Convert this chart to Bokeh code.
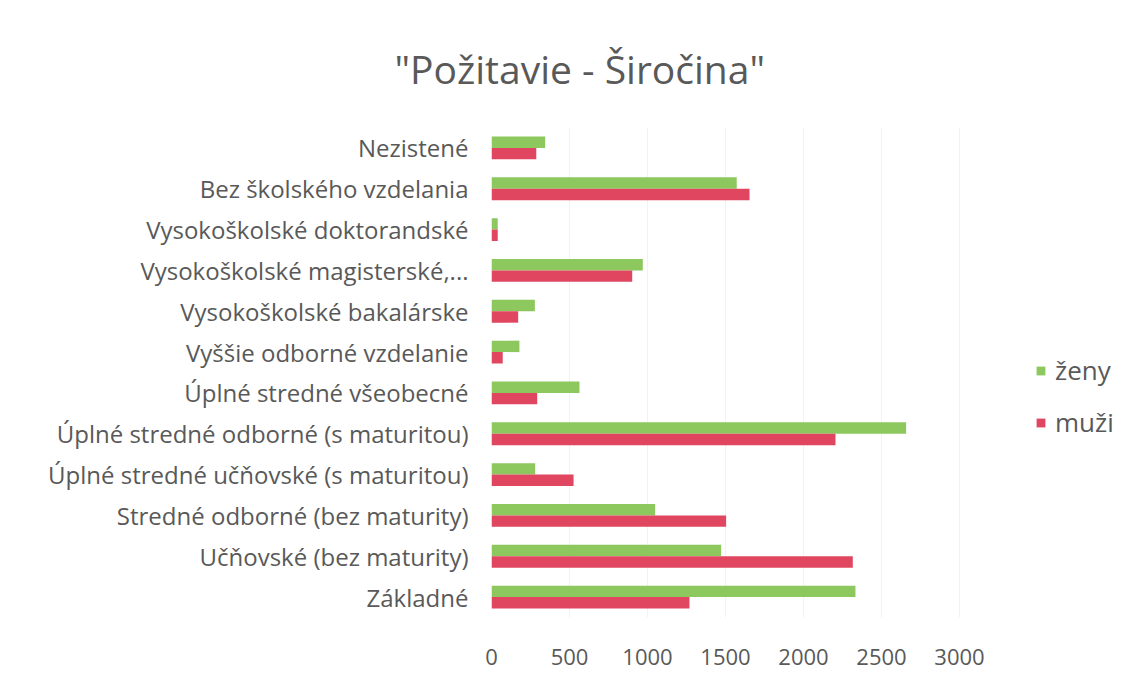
from bokeh.plotting import figure
from bokeh.models import FactorRange, Range1d, Legend, LegendItem, ColumnDataSource, FixedTicker
from bokeh.transform import dodge
from bokeh.embed import file_html
from bokeh.resources import INLINE

categories = ["Nezistené", "Bez školského vzdelania", "Vysokoškolské doktorandské",
              "Vysokoškolské magisterské,...", "Vysokoškolské bakalárske",
              "Vyššie odborné vzdelanie", "Úplné stredné všeobecné",
              "Úplné stredné odborné (s maturitou)", "Úplné stredné učňovské (s maturitou)",
              "Stredné odborné (bez maturity)", "Učňovské (bez maturity)", "Základné"]
zeny = [344, 1572, 40, 970, 278, 179, 564, 2658, 280, 1049, 1472, 2333]
muzi = [287, 1654, 40, 902, 171, 72, 293, 2205, 526, 1504, 2316, 1269]
x_ticks = [0, 500, 1000, 1500, 2000, 2500, 3000]

FONT = "Open Sans"
TXT = "#595959"
GREEN = "#8cc85e"
RED = "#e0465f"

src = ColumnDataSource(dict(cat=categories, zeny=zeny, muzi=muzi))

# frame extends to the right edge so the legend can sit inside it;
# 0..3000 spans 468 px, frame width is 639 px
p = figure(width=1130, height=682, output_backend="svg", toolbar_location=None,
           y_range=FactorRange(factors=list(reversed(categories)), range_padding=0),
           x_range=Range1d(0, 3000 * 639 / 468),
           min_border_left=491, min_border_right=0, min_border_top=127, min_border_bottom=65,
           title='"Požitavie - Širočina"')

rg = p.hbar(y=dodge("cat", 0.14, range=p.y_range), right="zeny", left=0, height=0.28,
            source=src, fill_color=GREEN, line_color=None)
rr = p.hbar(y=dodge("cat", -0.14, range=p.y_range), right="muzi", left=0, height=0.28,
            source=src, fill_color=RED, line_color=None)

p.title.text_font = FONT
p.title.text_font_size = "39px"
p.title.text_font_style = "normal"
p.title.text_color = TXT
p.title.align = "left"
p.title.vertical_align = "top"
p.title.offset = -97
p.title.standoff = 62

p.outline_line_color = None
p.ygrid.grid_line_color = None
p.xgrid.grid_line_color = "#f2f2f2"

p.xaxis.ticker = FixedTicker(ticks=x_ticks)
for ax in (p.xaxis, p.yaxis):
    ax.axis_line_color = None
    ax.major_tick_line_color = None
    ax.minor_tick_line_color = None
    ax.major_tick_out = 0
    ax.major_tick_in = 0
    ax.major_label_text_font = FONT
    ax.major_label_text_color = TXT
p.xaxis.major_label_text_font_size = "22px"
p.yaxis.major_label_text_font_size = "24px"
p.xaxis.major_label_standoff = 31
p.yaxis.major_label_standoff = 23

legend = Legend(items=[LegendItem(label="ženy", renderers=[rg]),
                       LegendItem(label="muži", renderers=[rr])],
                location=(544, 177), orientation="vertical")
legend.border_line_color = None
legend.background_fill_alpha = 0
legend.padding = 0
legend.margin = 0
legend.glyph_width = 11
legend.glyph_height = 11
legend.label_height = 20
legend.spacing = 16
legend.label_standoff = 9
legend.label_text_font = FONT
legend.label_text_font_size = "26px"
legend.label_text_color = TXT
p.add_layout(legend, "center")

open("out.html", "w").write(file_html(p, INLINE))
